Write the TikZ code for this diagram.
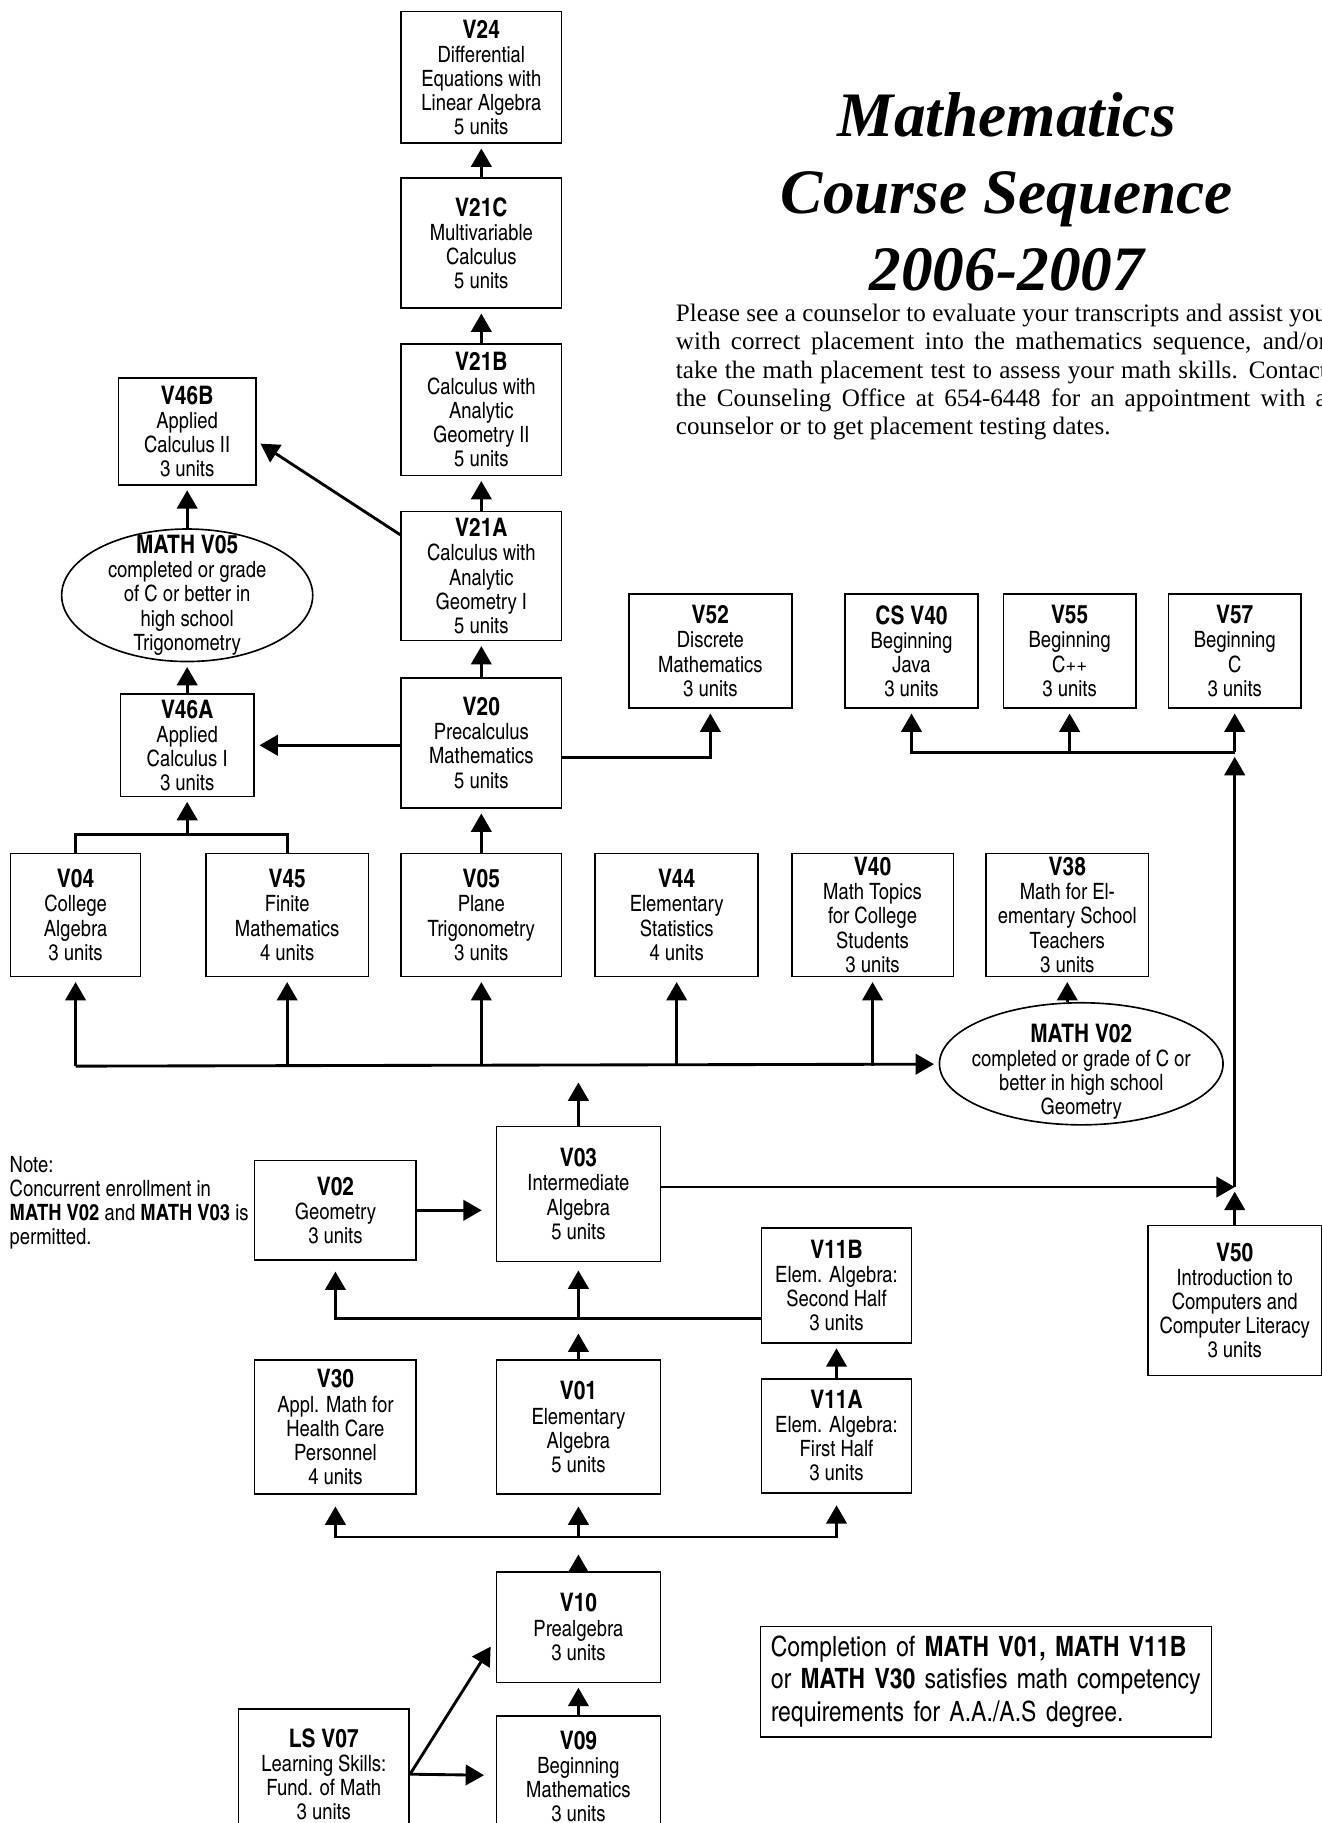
\documentclass[tikz,border=0pt]{standalone}
\usepackage{fontspec}
\setmainfont{texgyreheroscn}[Extension=.otf, UprightFont=*-regular, BoldFont=*-bold, ItalicFont=*-italic, BoldItalicFont=*-bolditalic]
\newfontfamily\timesfont{Liberation Serif}
\usetikzlibrary{arrows.meta}
\usetikzlibrary{shapes.geometric}
\newcommand{\cnum}[1]{{\bfseries\fontsize{12.5}{11.8}\selectfont #1}}

\begin{document}
\begin{tikzpicture}[x=0.02cm,y=-0.02cm,
    course/.style={draw,line width=0.8pt,align=center,inner sep=0pt,font=\fontsize{11}{11.8}\selectfont},
    cond/.style={draw,ellipse,line width=0.8pt,inner sep=0pt},
    condtext/.style={align=center,inner sep=0pt,font=\fontsize{11}{11.8}\selectfont},
    flow/.style={-{Triangle[width=10pt,length=9pt]},line width=1.4pt,shorten >=0.08cm},
    link/.style={line width=1.4pt}]
    \path[use as bounding box,fill=white] (0,0) rectangle (1137,1568);
    %title
    \node[align=center,font=\timesfont\bfseries\itshape\fontsize{31}{37.5}\selectfont] (title) at (866,165) {Mathematics\\Course Sequence\\2006-2007};
    \node[anchor=north west,inner sep=0pt,align=left,font=\timesfont\fontsize{12.3}{13.9}\selectfont] (intro) at (581,261) {%
      \makebox[11.2cm][s]{Please see a counselor to evaluate your transcripts and assist you}\\
      \makebox[11.2cm][s]{with correct placement into the mathematics sequence, and/or}\\
      \makebox[11.2cm][s]{take the math placement test to assess your math skills. Contact}\\
      \makebox[11.2cm][s]{the Counseling Office at 654-6448 for an appointment with a}\\
      counselor or to get placement testing dates.};
    %calculus
    \node[course,minimum width=2.76cm,minimum height=2.26cm] (v24) at (414,66.5) {\cnum{V24}\\Differential\\Equations with\\Linear Algebra\\5 units};
    \node[course,minimum width=2.76cm,minimum height=2.24cm] (v21c) at (414,209) {\cnum{V21C}\\Multivariable\\Calculus\\5 units};
    \node[course,minimum width=2.76cm,minimum height=2.26cm] (v21b) at (414,352.5) {\cnum{V21B}\\Calculus with\\Analytic\\Geometry II\\5 units};
    \node[course,minimum width=2.76cm,minimum height=2.22cm] (v21a) at (414,495.5) {\cnum{V21A}\\Calculus with\\Analytic\\Geometry I\\5 units};
    \node[course,minimum width=2.76cm,minimum height=2.24cm] (v20) at (414,639) {\cnum{V20}\\Precalculus\\Mathematics\\5 units};
    \node[course,minimum width=2.36cm,minimum height=1.84cm] (v46b) at (161,371) {\cnum{V46B}\\Applied\\Calculus II\\3 units};
    \node[cond,minimum width=4.32cm,minimum height=2.28cm] (ell05) at (161,512) {};
    \node[condtext] (t05) at (ell05) {\cnum{MATH V05}\\completed or grade\\of C or better in\\high school\\Trigonometry};
    \node[course,minimum width=2.3cm,minimum height=1.76cm] (v46a) at (161,641) {\cnum{V46A}\\Applied\\Calculus I\\3 units};
    \node[course,minimum width=2.8cm,minimum height=1.96cm] (v52) at (611,560) {\cnum{V52}\\Discrete\\Mathematics\\3 units};
    \node[course,minimum width=2.28cm,minimum height=1.96cm] (csv40) at (784,560) {\cnum{CS V40}\\Beginning\\Java\\3 units};
    \node[course,minimum width=2.28cm,minimum height=1.96cm] (v55) at (920,560) {\cnum{V55}\\Beginning\\C{+}{+}\\3 units};
    \node[course,minimum width=2.28cm,minimum height=1.96cm] (v57) at (1062,560) {\cnum{V57}\\Beginning\\C\\3 units};
    %middle row
    \node[course,minimum width=2.24cm,minimum height=2.12cm] (v04) at (65,787) {\cnum{V04}\\College\\Algebra\\3 units};
    \node[course,minimum width=2.8cm,minimum height=2.12cm] (v45) at (247,787) {\cnum{V45}\\Finite\\Mathematics\\4 units};
    \node[course,minimum width=2.76cm,minimum height=2.12cm] (v05) at (414,787) {\cnum{V05}\\Plane\\Trigonometry\\3 units};
    \node[course,minimum width=2.8cm,minimum height=2.12cm] (v44) at (582,787) {\cnum{V44}\\Elementary\\Statistics\\4 units};
    \node[course,minimum width=2.78cm,minimum height=2.12cm] (v40) at (750.5,787) {\cnum{V40}\\Math Topics\\for College\\Students\\3 units};
    \node[course,minimum width=2.8cm,minimum height=2.12cm] (v38) at (918,787) {\cnum{V38}\\Math for El-\\ementary School\\Teachers\\3 units};
    \node[cond,minimum width=4.88cm,minimum height=2.1cm] (ell02) at (930,915) {};
    \node[condtext] (t02) at (930,922) {\cnum{MATH V02}\\completed or grade of C or\\better in high school\\Geometry};
    %algebra
    \node[anchor=north west,inner sep=0pt,align=left,font=\fontsize{11}{11.8}\selectfont] (note) at (8,994) {Note:\\Concurrent enrollment in\\\textbf{MATH V02} and \textbf{MATH V03} is\\permitted.};
    \node[course,minimum width=2.78cm,minimum height=1.72cm] (v02) at (288.5,1041) {\cnum{V02}\\Geometry\\3 units};
    \node[course,minimum width=2.82cm,minimum height=2.32cm] (v03) at (497.5,1027) {\cnum{V03}\\Intermediate\\Algebra\\5 units};
    \node[course,minimum width=2.98cm,minimum height=2.58cm] (v50) at (1062,1118.5) {\cnum{V50}\\Introduction to\\Computers and\\Computer Literacy\\3 units};
    \node[course,minimum width=2.58cm,minimum height=1.98cm] (v11b) at (719.5,1105.5) {\cnum{V11B}\\Elem. Algebra:\\Second Half\\3 units};
    \node[course,minimum width=2.58cm,minimum height=1.96cm] (v11a) at (719.5,1235) {\cnum{V11A}\\Elem. Algebra:\\First Half\\3 units};
    \node[course,minimum width=2.78cm,minimum height=2.3cm] (v30) at (288.5,1227.5) {\cnum{V30}\\Appl. Math for\\Health Care\\Personnel\\4 units};
    \node[course,minimum width=2.82cm,minimum height=2.3cm] (v01) at (497.5,1227.5) {\cnum{V01}\\Elementary\\Algebra\\5 units};
    \node[course,minimum width=2.82cm,minimum height=1.9cm] (v10) at (497.5,1399.5) {\cnum{V10}\\Prealgebra\\3 units};
    \node[course,minimum width=2.82cm,minimum height=2.08cm] (v09) at (497.5,1528) {\cnum{V09}\\Beginning\\Mathematics\\3 units};
    \node[course,minimum width=2.94cm,minimum height=2.24cm] (lsv07) at (278.5,1526) {\cnum{LS V07}\\Learning Skills:\\Fund. of Math\\3 units};
    \node[draw,line width=0.8pt,minimum width=7.76cm,minimum height=1.9cm,text width=7.4cm,align=left,inner sep=0pt,font=\fontsize{13.7}{15.9}\selectfont] (comp) at (848,1446.5) {Completion of \textbf{MATH V01, MATH V11B}\\or \textbf{MATH V30} satisfies math competency\\requirements for A.A./A.S degree.};
    %junctions
    \coordinate (bus) at (497.5,917);
    \coordinate (b03) at (497.5,927);
    \coordinate (j46) at (161,718);
    \coordinate (jc) at (1062,647);
    \coordinate (j50) at (1062,1021);
    \coordinate (j11) at (497.5,1134);
    \coordinate (j01) at (497.5,1143);
    \coordinate (j10) at (497.5,1322);
    \coordinate (j10b) at (497.5,1333);
    %connectors
    \draw[flow] (v21c) -- (v24);
    \draw[flow] (v21b) -- (v21c);
    \draw[flow] (v21a) -- (v21b);
    \draw[flow] (v20) -- (v21a);
    \draw[flow] (v21a.153) -- (v46b.-8);
    \draw[flow] (v20.west |- v46a) -- (v46a);
    \draw[flow] (v20.-10) -| (v52);
    \draw[flow] (v46a) -- (ell05);
    \draw[flow] (ell05) -- (v46b);
    \draw[link] (v04) |- (j46) -| (v45);
    \draw[flow] (j46) -- (v46a);
    \draw[flow] (v05) -- (v20);
    \draw[flow] (bus -| v04) -- (ell02);
    \draw[flow] (bus -| v04) -- (v04);
    \draw[flow] (bus -| v45) -- (v45);
    \draw[flow] (bus -| v05) -- (v05);
    \draw[flow] (bus -| v44) -- (v44);
    \draw[flow] (bus -| v40) -- (v40);
    \draw[flow] (ell02.north -| v38) -- (v38);
    \draw[flow] (v03) -- (b03);
    \draw[flow,shorten >=0pt] (v03.east |- j50) -- (j50);
    \draw[flow] (v50) -- (j50);
    \draw[flow] (j50) -- (jc);
    \draw[flow] (jc) -| (csv40);
    \draw[flow] (v55 |- jc) -- (v55);
    \draw[flow] (jc) -- (v57);
    \draw[flow,shorten >=0.24cm] (v02) -- (v02 -| v03.west);
    \draw[flow,shorten >=0.18cm] (v11b.west |- j11) -| (v02);
    \draw[flow,shorten >=0.14cm] (j11) -- (v03);
    \draw[flow] (v01) -- (j01);
    \draw[flow] (v11a) -- (v11b);
    \draw[flow,shorten >=0.2cm] (j10) -| (v30);
    \draw[flow,shorten >=0.2cm] (j10) -| (v11a);
    \draw[flow,shorten >=0.2cm] (j10) -- (v01);
    \draw[flow] (v10) -- (j10b);
    \draw[flow] (v09) -- (v10);
    \draw[flow,shorten >=0.16cm] (lsv07.east) -- (v10.188);
    \draw[flow,shorten >=0.2cm] (lsv07.east) -- (v09);
\end{tikzpicture}
\end{document}
